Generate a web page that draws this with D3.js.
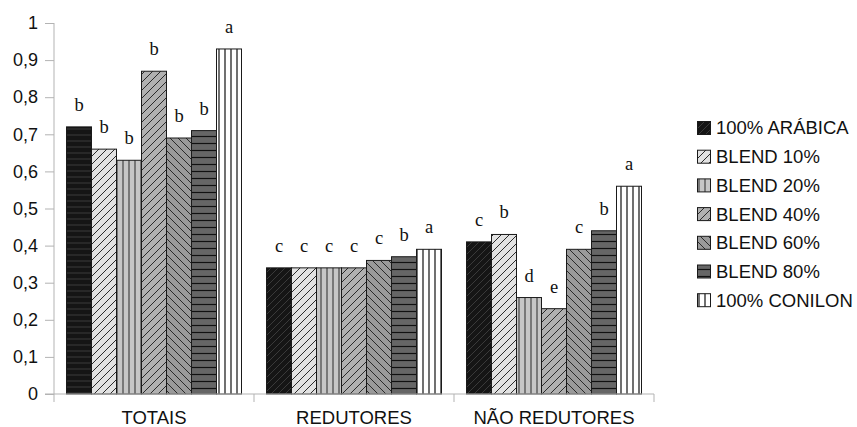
<!DOCTYPE html>
<html><head><meta charset="utf-8">
<script src="https://cdn.jsdelivr.net/npm/d3@7"></script>
<style>body{margin:0;background:#fff;} svg{display:block;}</style>
</head><body>
<svg id="c" width="857" height="427"></svg>
<script>
const categories = ["TOTAIS", "REDUTORES", "NÃO REDUTORES"];
const seriesNames = ["100% ARÁBICA", "BLEND 10%", "BLEND 20%", "BLEND 40%", "BLEND 60%", "BLEND 80%", "100% CONILON"];
const arabica  = [0.72, 0.34, 0.41];
const blend10  = [0.66, 0.34, 0.43];
const blend20  = [0.63, 0.34, 0.26];
const blend40  = [0.87, 0.34, 0.23];
const blend60  = [0.69, 0.36, 0.39];
const blend80  = [0.71, 0.37, 0.44];
const conilon  = [0.93, 0.39, 0.56];
const letters = [
  ["b","b","b","b","b","b","a"],
  ["c","c","c","c","c","b","a"],
  ["c","b","d","e","c","b","a"]
];
const yTicks = [0,0.1,0.2,0.3,0.4,0.5,0.6,0.7,0.8,0.9,1];
const yTickLabels = ["0","0,1","0,2","0,3","0,4","0,5","0,6","0,7","0,8","0,9","1"];

const seriesValues = [arabica, blend10, blend20, blend40, blend60, blend80, conilon];

const svg = d3.select("#c");
const defs = svg.append("defs");

function pat(id, bg, stroke, size, kind, sw) {
  const p = defs.append("pattern").attr("id", id).attr("patternUnits","userSpaceOnUse")
    .attr("width", size).attr("height", size);
  p.append("rect").attr("width", size).attr("height", size).attr("fill", bg);
  if (kind === "v") p.append("line").attr("x1", size/2).attr("x2", size/2).attr("y1",0).attr("y2",size).attr("stroke",stroke).attr("stroke-width",sw);
  if (kind === "h") p.append("line").attr("y1", size/2).attr("y2", size/2).attr("x1",0).attr("x2",size).attr("stroke",stroke).attr("stroke-width",sw);
  if (kind === "f") {
    p.append("path").attr("d",`M0,${size} L${size},0 M${-size/2},${size/2} L${size/2},${-size/2} M${size/2},${size*1.5} L${size*1.5},${size/2}`).attr("stroke",stroke).attr("stroke-width",sw);
  }
  if (kind === "b") {
    p.append("path").attr("d",`M0,0 L${size},${size} M${size/2},${-size/2} L${size*1.5},${size/2} M${-size/2},${size/2} L${size/2},${size*1.5}`).attr("stroke",stroke).attr("stroke-width",sw);
  }
  return `url(#${id})`;
}
const fills = [
  pat("p0", "#151515", "#3a3a3a", 7, "f", 1),
  pat("p1", "#e2e2e2", "#2a2a2a", 8, "f", 1),
  pat("p2", "#c6c6c6", "#2a2a2a", 6, "v", 1),
  pat("p3", "#b0b0b0", "#2a2a2a", 8, "f", 1),
  pat("p4", "#9a9a9a", "#2a2a2a", 8, "b", 1),
  pat("p5", "#666666", "#111111", 7, "h", 1.2),
  pat("p6", "#ffffff", "#111111", 6, "v", 1.2)
];
const fillArabicaTotais = pat("p0h", "#151515", "#3a3a3a", 6, "h", 1);

const x0 = d3.scaleBand().domain(categories).range([54, 654]).padding(0);
const x1 = d3.scaleBand().domain(seriesNames).range([x0.bandwidth()*0.0625, x0.bandwidth()*0.9375]).padding(0);
const y = d3.scaleLinear().domain([0,1]).range([394, 23]);

const gy = svg.append("g").attr("transform","translate(54,0)")
  .call(d3.axisLeft(y).tickValues(yTicks).tickFormat((d,i)=>yTickLabels[i]).tickSize(9).tickPadding(7));
gy.select(".domain").attr("stroke","#b3b3b3").attr("d", `M0,${y(1)}V${y(0)}`);
gy.selectAll(".tick line").attr("stroke","#b3b3b3");
gy.selectAll(".tick text").attr("font-family","'Liberation Sans', Arial, sans-serif").attr("font-size",18).attr("fill","#111");

const gBars = svg.append("g");
categories.forEach((cat, ci) => {
  seriesNames.forEach((s, si) => {
    const v = seriesValues[si][ci];
    const bx = x0(cat) + x1(s);
    gBars.append("rect")
      .attr("x", bx).attr("y", y(v))
      .attr("width", x1.bandwidth()).attr("height", y(0) - y(v))
      .attr("fill", (si === 0 && ci === 0) ? fillArabicaTotais : fills[si])
      .attr("stroke", "#1a1a1a").attr("stroke-width", 1);
    svg.append("text")
      .attr("x", bx + x1.bandwidth()/2).attr("y", y(v) - 16)
      .attr("text-anchor","middle")
      .attr("font-family","'Liberation Serif', 'Times New Roman', serif")
      .attr("font-size",18.5).attr("fill","#111")
      .text(letters[ci][si]);
  });
});

const gx = svg.append("g").attr("transform",`translate(0,${y(0)})`);
gx.append("line").attr("x1",45).attr("x2",654).attr("y1",0).attr("y2",0).attr("stroke","#b3b3b3");
const bounds = [x0(categories[0])].concat(categories.map(c => x0(c)+x0.bandwidth()));
gx.selectAll("line.tk").data(bounds).enter().append("line").attr("class","tk")
  .attr("x1",d=>d).attr("x2",d=>d).attr("y1",0).attr("y2",8).attr("stroke","#b3b3b3");
gx.selectAll("text").data(categories).enter().append("text")
  .attr("x", d => x0(d) + x0.bandwidth()/2).attr("y", 29.5)
  .attr("text-anchor","middle")
  .attr("font-family","'Liberation Sans', Arial, sans-serif").attr("font-size",18.5).attr("fill","#111")
  .text(d=>d);

const lg = svg.append("g");
seriesNames.forEach((s, i) => {
  const cy = 128 + i*28.7;
  lg.append("rect").attr("x",697.5).attr("y",cy-6.5).attr("width",13).attr("height",13)
    .attr("fill", fills[i]).attr("stroke","#1a1a1a").attr("stroke-width",1);
  lg.append("text").attr("x",716).attr("y",cy).attr("dy","0.35em")
    .attr("font-family","'Liberation Sans', Arial, sans-serif").attr("font-size",18.5).attr("fill","#111")
    .text(s);
});
</script>
</body></html>
